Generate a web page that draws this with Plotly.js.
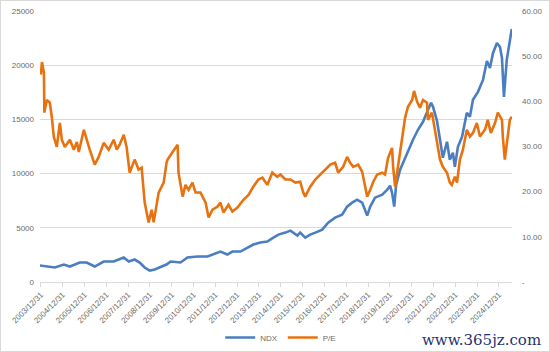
<!DOCTYPE html>
<html>
<head>
<meta charset="utf-8">
<script src="https://cdn.plot.ly/plotly-3.0.1.min.js"></script>
<style>
html,body{margin:0;padding:0;background:#fff;}
#wrap{position:relative;width:550px;height:352px;}
#chart{width:550px;height:352px;}
#frame{position:absolute;left:0;top:0;width:550px;height:352px;box-sizing:border-box;border:1px solid #d9d9d9;pointer-events:none;}
</style>
</head>
<body>
<div id="wrap"><div id="chart"></div><div id="frame"></div></div>
<script>
// NDX (left axis)
const ndxT = [2003.95,2004.41,2004.64,2005.05,2005.33,2005.78,2006.10,2006.47,2006.88,2007.34,2007.61,2007.80,2008.03,2008.30,2008.53,2008.76,2008.99,2009.22,2009.54,2009.76,2009.95,2010.40,2010.72,2011.18,2011.64,2011.87,2012.23,2012.55,2012.78,2013.15,2013.47,2013.74,2014.06,2014.38,2014.66,2014.89,2015.21,2015.44,2015.76,2015.89,2016.12,2016.35,2016.58,2016.90,2017.17,2017.49,2017.81,2018.04,2018.27,2018.50,2018.73,2018.96,2019.10,2019.32,2019.65,2019.88,2020.01,2020.10,2020.20,2020.29,2020.47,2020.70,2020.93,2021.06,2021.29,2021.52,2021.75,2021.89,2021.98,2022.16,2022.30,2022.43,2022.62,2022.75,2022.89,2022.98,2023.12,2023.31,2023.53,2023.67,2023.81,2024.04,2024.27,2024.45,2024.59,2024.73,2024.91,2025.05,2025.14,2025.23,2025.36,2025.50,2025.59];
const ndxV = [1519,1427,1335,1611,1427,1796,1796,1427,1888,1888,2072,2256,1888,2072,1796,1335,1059,1151,1427,1611,1888,1796,2256,2348,2348,2532,2808,2532,2808,2808,3177,3453,3637,3729,4098,4374,4558,4742,4282,4558,4098,4374,4558,4834,5479,5939,6215,6952,7320,7597,7320,6123,6952,7781,8057,8517,8886,8241,6952,8978,10359,11464,12661,13121,14042,14779,15884,16528,16160,14871,13121,11464,12937,11280,11924,10635,12477,13398,15608,15239,16805,17541,18646,20396,19751,21133,22054,21686,20672,17081,20488,22330,23343];

// P/E (right axis)
const peT = [2004.00,2004.05,2004.14,2004.16,2004.27,2004.41,2004.50,2004.59,2004.73,2004.87,2004.96,2005.10,2005.33,2005.51,2005.65,2005.74,2005.97,2006.10,2006.24,2006.47,2006.65,2006.88,2007.11,2007.34,2007.48,2007.61,2007.80,2007.93,2008.07,2008.30,2008.48,2008.62,2008.76,2008.85,2008.94,2009.08,2009.17,2009.40,2009.63,2009.76,2009.81,2010.04,2010.18,2010.27,2010.31,2010.50,2010.63,2010.77,2010.95,2011.09,2011.32,2011.55,2011.69,2011.87,2012.10,2012.23,2012.37,2012.60,2012.78,2013.01,2013.29,2013.52,2013.74,2013.97,2014.16,2014.38,2014.61,2014.84,2014.98,2015.21,2015.44,2015.67,2015.89,2016.03,2016.12,2016.35,2016.58,2016.81,2017.04,2017.27,2017.49,2017.63,2017.86,2018.04,2018.18,2018.32,2018.55,2018.73,2018.87,2018.96,2019.10,2019.24,2019.42,2019.65,2019.78,2019.92,2020.10,2020.15,2020.24,2020.38,2020.56,2020.70,2020.83,2021.02,2021.11,2021.25,2021.38,2021.52,2021.70,2021.75,2021.93,2022.07,2022.16,2022.30,2022.43,2022.62,2022.75,2022.84,2022.98,2023.08,2023.21,2023.35,2023.53,2023.67,2023.81,2023.99,2024.13,2024.36,2024.49,2024.63,2024.82,2024.95,2025.14,2025.18,2025.27,2025.36,2025.50,2025.59];
const peV = [45.9,48.7,46.3,37.5,40.3,39.7,36.6,32.2,29.9,35.2,31.5,29.9,31.5,29.3,31.0,28.8,33.7,31.5,29.3,26.0,27.7,30.8,29.3,31.5,29.3,30.4,32.6,29.9,24.2,27.1,24.9,25.3,17.6,15.4,13.2,16.0,13.2,19.8,22.0,26.4,27.1,28.8,29.9,30.4,24.2,18.9,21.5,20.4,22.0,19.8,19.8,17.6,14.3,16.0,16.7,17.6,15.4,17.1,15.6,16.5,18.2,19.3,21.1,22.7,23.1,21.5,24.2,23.3,23.8,22.7,22.7,22.0,22.2,19.8,18.9,21.1,22.7,23.8,24.9,26.0,26.4,24.2,25.5,27.7,26.4,25.5,26.0,24.4,21.1,18.9,20.4,22.2,23.8,24.2,23.8,27.5,29.7,25.5,21.1,25.5,31.5,36.4,38.8,40.3,42.3,39.9,38.6,40.3,39.7,35.9,37.5,33.7,30.8,27.1,25.5,24.2,22.0,21.5,23.3,22.0,27.1,29.3,33.7,32.2,33.0,35.2,32.2,33.7,35.9,33.0,35.2,37.5,35.9,32.2,27.1,30.8,35.9,36.6];

const yearTicks = [2004,2005,2006,2007,2008,2009,2010,2011,2012,2013,2014,2015,2016,2017,2018,2019,2020,2021,2022,2023,2024,2025];
const yearLabels = ["2003/12/31","2004/12/31","2005/12/31","2006/12/31","2007/12/31","2008/12/31","2009/12/31","2010/12/31","2011/12/31","2012/12/31","2013/12/31","2014/12/31","2015/12/31","2016/12/31","2017/12/31","2018/12/31","2019/12/31","2020/12/31","2021/12/31","2022/12/31","2023/12/31","2024/12/31"];
const leftTicks = [0,5000,10000,15000,20000,25000];
const rightTicks = [0,10,20,30,40,50,60];
const rightLabels = ["-","10.00","20.00","30.00","40.00","50.00","60.00"];

const font = "Liberation Sans, Arial, sans-serif";
const gray = "#6b6b6b";

const traces = [
  {x: ndxT, y: ndxV, name: "NDX", type: "scatter", mode: "lines", yaxis: "y",
   line: {color: "#4a7ec0", width: 2.6}},
  {x: peT, y: peV, name: "P/E", type: "scatter", mode: "lines", yaxis: "y2",
   line: {color: "#e8720f", width: 2.6}}
];

const layout = {
  width: 550, height: 352,
  margin: {l: 40, r: 38, t: 11, b: 70, autoexpand: false},
  paper_bgcolor: "#fff", plot_bgcolor: "#fff",
  font: {family: font, size: 8, color: gray},
  showlegend: true,
  legend: {orientation: "h", x: 0.51, xanchor: "center", y: -0.205, yanchor: "middle",
           font: {family: font, size: 8, color: gray}, itemwidth: 30, tracegroupgap: 0},
  xaxis: {range: [2003.96, 2025.6], tickmode: "array", tickvals: yearTicks, ticktext: yearLabels,
          tickangle: -45, ticks: "outside", ticklen: 4, tickcolor: "#d9d9d9", automargin: false,
          showline: true, linecolor: "#d9d9d9", linewidth: 1, showgrid: false, zeroline: false,
          tickfont: {family: font, size: 8, color: gray}, fixedrange: true},
  yaxis: {range: [0, 25000], tickmode: "array", tickvals: leftTicks, tickformat: "d", automargin: false,
          showgrid: true, gridcolor: "#d9d9d9", gridwidth: 1, zeroline: false, showline: false,
          ticks: "", ticklabelstandoff: 5, tickfont: {family: font, size: 8, color: gray}},
  yaxis2: {range: [0, 60], overlaying: "y", side: "right", tickmode: "array", automargin: false,
           tickvals: rightTicks, ticktext: rightLabels, showgrid: false, zeroline: false,
           showline: false, ticks: "", ticklabelstandoff: 9,
           tickfont: {family: font, size: 8, color: gray}},
  annotations: [{xref: "paper", yref: "paper", x: 1.065, y: -0.215, xanchor: "right", yanchor: "middle",
                 text: "www.365jz.com", showarrow: false,
                 font: {family: "DejaVu Serif, serif", size: 15, color: "#1f3470"}}]
};

Plotly.newPlot("chart", traces, layout, {displayModeBar: false, staticPlot: true});
</script>
</body>
</html>
